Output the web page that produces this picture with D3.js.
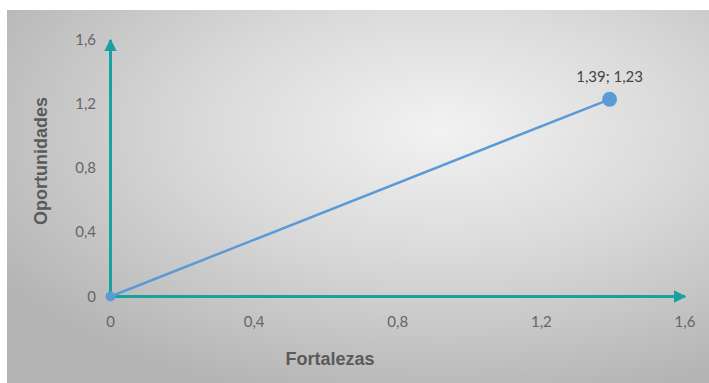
<!DOCTYPE html>
<html>
<head>
<meta charset="utf-8">
<script src="https://cdn.jsdelivr.net/npm/d3@7"></script>
<style>
  body { margin: 0; background: #fff; }
  svg { display: block; }
</style>
</head>
<body>
<script>
// data
var fortalezas = [0, 1.39];
var oportunidades = [0, 1.23];
var xTicks = [0, 0.4, 0.8, 1.2, 1.6];
var yTicks = [0, 0.4, 0.8, 1.2, 1.6];
var xTitle = "Fortalezas";
var yTitle = "Oportunidades";

var width = 709, height = 383;
var locale = d3.formatLocale({decimal: ",", thousands: ".", grouping: [3], currency: ["", ""]});
var fmt = function (v) { return locale.format("~g")(v); };
var bodyFont = "Lato, 'Open Sans', sans-serif";
var titleFont = "'Liberation Sans', Arial, sans-serif";

var svg = d3.select("body").append("svg")
    .attr("width", width)
    .attr("height", height);

var defs = svg.append("defs");
var grad = defs.append("radialGradient")
    .attr("id", "bg")
    .attr("cx", "62%").attr("cy", "32%").attr("r", "75%");
grad.append("stop").attr("offset", "0%").attr("stop-color", "#f2f2f2");
grad.append("stop").attr("offset", "45%").attr("stop-color", "#dadada");
grad.append("stop").attr("offset", "100%").attr("stop-color", "#b4b4b4");

svg.append("rect")
    .attr("x", 7).attr("y", 10)
    .attr("width", width - 7).attr("height", height - 10)
    .attr("fill", "url(#bg)");

var x = d3.scaleLinear().domain([0, 1.6]).range([110.5, 685]);
var y = d3.scaleLinear().domain([0, 1.6]).range([296.5, 40]);

var teal = "#17a2a0";
var arrow = defs.append("marker")
    .attr("id", "arr")
    .attr("viewBox", "0 0 10 10")
    .attr("refX", 9).attr("refY", 5)
    .attr("markerWidth", 4.2).attr("markerHeight", 4.2)
    .attr("markerUnits", "strokeWidth")
    .attr("orient", "auto");
arrow.append("path").attr("d", "M0,0 L10,5 L0,10 Z").attr("fill", teal);

// axes as arrows
svg.append("line")
    .attr("x1", x(0)).attr("y1", y(0))
    .attr("x2", x(1.6)).attr("y2", y(0))
    .attr("stroke", teal).attr("stroke-width", 3)
    .attr("marker-end", "url(#arr)");
svg.append("line")
    .attr("x1", x(0)).attr("y1", y(0))
    .attr("x2", x(0)).attr("y2", y(1.6))
    .attr("stroke", teal).attr("stroke-width", 3)
    .attr("marker-end", "url(#arr)");

// tick labels
svg.append("g").selectAll("text")
    .data(xTicks).enter().append("text")
    .attr("x", function (d) { return x(d); })
    .attr("y", 327)
    .attr("text-anchor", "middle")
    .style("font-family", bodyFont)
    .style("font-size", "15px")
    .attr("fill", "#666")
    .text(fmt);

svg.append("g").selectAll("text")
    .data(yTicks).enter().append("text")
    .attr("x", 96)
    .attr("y", function (d) { return y(d) + 5; })
    .attr("text-anchor", "end")
    .style("font-family", bodyFont)
    .style("font-size", "15px")
    .attr("fill", "#666")
    .text(fmt);

// axis titles
svg.append("text")
    .attr("x", 330).attr("y", 365)
    .attr("text-anchor", "middle")
    .style("font-family", titleFont)
    .style("font-weight", "bold")
    .style("font-size", "18px")
    .attr("fill", "#5a5a5a")
    .text(xTitle);

svg.append("text")
    .attr("transform", "translate(47,161) rotate(-90)")
    .attr("text-anchor", "middle")
    .style("font-family", titleFont)
    .style("font-weight", "bold")
    .style("font-size", "18px")
    .attr("fill", "#5a5a5a")
    .text(yTitle);

// series
var pts = fortalezas.map(function (v, i) { return [v, oportunidades[i]]; });
svg.append("path")
    .datum(pts)
    .attr("fill", "none")
    .attr("stroke", "#5b9bd5")
    .attr("stroke-width", 2.5)
    .attr("d", d3.line().x(function (d) { return x(d[0]); }).y(function (d) { return y(d[1]); }));

svg.append("g").selectAll("circle")
    .data(pts).enter().append("circle")
    .attr("cx", function (d) { return x(d[0]); })
    .attr("cy", function (d) { return y(d[1]); })
    .attr("r", function (d, i) { return i === 0 ? 5 : 7.5; })
    .attr("fill", "#5b9bd5");

var last = pts[pts.length - 1];
svg.append("text")
    .attr("x", x(last[0]))
    .attr("y", y(last[1]) - 17)
    .attr("text-anchor", "middle")
    .style("font-family", bodyFont)
    .style("font-size", "15px")
    .attr("fill", "#444")
    .text(fmt(last[0]) + "; " + fmt(last[1]));
</script>
</body>
</html>
